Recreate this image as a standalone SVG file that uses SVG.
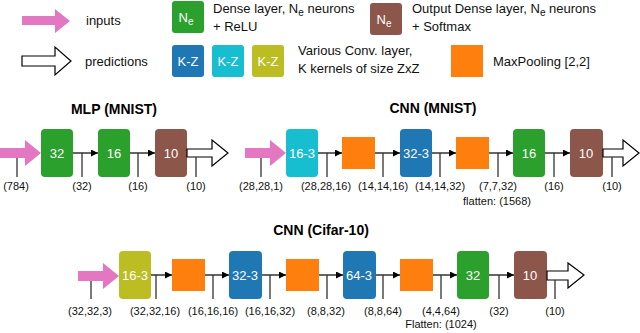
<svg xmlns="http://www.w3.org/2000/svg" width="640" height="333" viewBox="0 0 640 333">
<defs>
<style>
text{font-family:"Liberation Sans",Arial,sans-serif;}
.lg{font-size:13px;fill:#111;}
.lb{font-size:11px;fill:#111;text-anchor:middle;}
.tt{font-size:14px;font-weight:bold;fill:#000;text-anchor:middle;}
.bx{font-size:13px;fill:#fff;text-anchor:middle;}
.green{fill:#2ca02c;}
.brown{fill:#8c564b;}
.blue{fill:#1f77b4;}
.cyan{fill:#17becf;}
.olive{fill:#bcbd22;}
.orange{fill:#ff7f0e;}
.pink{fill:#e377c2;}
.outarr{fill:#fff;stroke:#000;stroke-width:1.2;}
.ln{stroke:#000;stroke-width:1.2;fill:none;}
.tk{stroke:#333;stroke-width:1.3;fill:none;}
</style>
<marker id="ah" viewBox="0 0 10 10" refX="10" refY="5" markerWidth="7" markerHeight="7" markerUnits="userSpaceOnUse" orient="auto">
<path d="M0,0 L10,5 L0,10 Z" fill="#000"/>
</marker>
</defs>

<!-- Legend -->
<g id="legend-inputs">
<path class="pink" d="M22,16 H55 V9 L70,21 L55,33 V25 H22 Z"/>
<text class="lg" x="86" y="25">inputs</text>
</g>
<g id="legend-predictions">
<path class="outarr" d="M22,56 H55 V47 L71,61 L55,75 V66 H22 Z"/>
<text class="lg" x="85" y="66">predictions</text>
</g>
<g id="legend-dense">
<rect class="green" x="172" y="1" width="32" height="32" rx="3"/>
<text class="bx" x="186" y="22">N<tspan font-size="10" dy="3">e</tspan></text>
<text class="lg" x="213" y="13">Dense layer, N<tspan font-size="10" dy="3">e</tspan><tspan dy="-3"> neurons</tspan></text>
<text class="lg" x="213" y="31">+ ReLU</text>
</g>
<g id="legend-output">
<rect class="brown" x="370" y="3" width="32" height="32" rx="3"/>
<text class="bx" x="384" y="24">N<tspan font-size="10" dy="3">e</tspan></text>
<text class="lg" x="412" y="13">Output Dense layer, N<tspan font-size="10" dy="3">e</tspan><tspan dy="-3"> neurons</tspan></text>
<text class="lg" x="412" y="31">+ Softmax</text>
</g>
<g id="legend-conv">
<rect class="blue" x="172" y="45" width="32" height="32" rx="3"/>
<text class="bx" x="188" y="66">K-Z</text>
<rect class="cyan" x="212" y="45" width="32" height="32" rx="3"/>
<text class="bx" x="228" y="66">K-Z</text>
<rect class="olive" x="252" y="45" width="32" height="32" rx="3"/>
<text class="bx" x="268" y="66">K-Z</text>
<text class="lg" x="298" y="55">Various Conv. layer,</text>
<text class="lg" x="298" y="73">K kernels of size ZxZ</text>
</g>
<g id="legend-pool">
<rect class="orange" x="451" y="45" width="32" height="32"/>
<text class="lg" x="493" y="66">MaxPooling [2,2]</text>
</g>

<!-- Titles -->
<text class="tt" x="114" y="114">MLP (MNIST)</text>
<text class="tt" x="433" y="113">CNN (MNIST)</text>
<text class="tt" x="321" y="235">CNN (Cifar-10)</text>

<!-- MLP nodes -->
<g id="mlp-in"><path class="pink" d="M0,148 H25 V140 L41,153 L25,166 V158 H0 Z"/></g>
<g id="mlp-d32"><rect class="green" x="41" y="129" width="32" height="48" rx="4"/><text class="bx" x="57" y="158">32</text></g>
<g id="mlp-d16"><rect class="green" x="98" y="129" width="32" height="48" rx="4"/><text class="bx" x="114" y="158">16</text></g>
<g id="mlp-out"><rect class="brown" x="155" y="129" width="32" height="48" rx="4"/><text class="bx" x="171" y="158">10</text></g>
<g id="mlp-pred"><path class="outarr" d="M187,149 H212 V140 L228,153 L212,166 V157 H187 Z"/></g>

<!-- CNN MNIST nodes -->
<g id="cm-in"><path class="pink" d="M245,148 H270 V140 L286,153 L270,166 V158 H245 Z"/></g>
<g id="cm-c1"><rect class="cyan" x="286" y="129" width="32" height="48" rx="4"/><text class="bx" x="302" y="158">16-3</text></g>
<g id="cm-p1"><rect class="orange" x="342" y="137" width="33" height="32"/></g>
<g id="cm-c2"><rect class="blue" x="400" y="129" width="32" height="48" rx="4"/><text class="bx" x="416" y="158">32-3</text></g>
<g id="cm-p2"><rect class="orange" x="456" y="137" width="33" height="32"/></g>
<g id="cm-d16"><rect class="green" x="513" y="129" width="32" height="48" rx="4"/><text class="bx" x="529" y="158">16</text></g>
<g id="cm-out"><rect class="brown" x="570" y="129" width="33" height="48" rx="4"/><text class="bx" x="586" y="158">10</text></g>
<g id="cm-pred"><path class="outarr" d="M603,149 H623 V140 L639,153 L623,166 V157 H603 Z"/></g>

<!-- CNN Cifar nodes -->
<g id="cc-in"><path class="pink" d="M78,271 H103 V263 L119,276 L103,289 V281 H78 Z"/></g>
<g id="cc-c1"><rect class="olive" x="119" y="251" width="32" height="48" rx="4"/><text class="bx" x="135" y="280">16-3</text></g>
<g id="cc-p1"><rect class="orange" x="172" y="259" width="33" height="32"/></g>
<g id="cc-c2"><rect class="blue" x="229" y="251" width="33" height="48" rx="4"/><text class="bx" x="245" y="280">32-3</text></g>
<g id="cc-p2"><rect class="orange" x="286" y="259" width="33" height="32"/></g>
<g id="cc-c3"><rect class="blue" x="343" y="251" width="33" height="48" rx="4"/><text class="bx" x="359" y="280">64-3</text></g>
<g id="cc-p3"><rect class="orange" x="400" y="259" width="33" height="32"/></g>
<g id="cc-d32"><rect class="green" x="457" y="251" width="32" height="48" rx="4"/><text class="bx" x="473" y="280">32</text></g>
<g id="cc-out"><rect class="brown" x="514" y="251" width="33" height="48" rx="4"/><text class="bx" x="530" y="280">10</text></g>
<g id="cc-pred"><path class="outarr" d="M547,271 H568 V263 L584,275 L568,288 V280 H547 Z"/></g>

<!-- Connectors -->
<g id="connectors">
<line class="ln" x1="73" y1="153" x2="98" y2="153" marker-end="url(#ah)"/>
<line class="ln" x1="130" y1="153" x2="155" y2="153" marker-end="url(#ah)"/>
<line class="ln" x1="318" y1="153" x2="342" y2="153" marker-end="url(#ah)"/>
<line class="ln" x1="375" y1="153" x2="400" y2="153" marker-end="url(#ah)"/>
<line class="ln" x1="432" y1="153" x2="456" y2="153" marker-end="url(#ah)"/>
<line class="ln" x1="489" y1="153" x2="513" y2="153" marker-end="url(#ah)"/>
<line class="ln" x1="545" y1="153" x2="570" y2="153" marker-end="url(#ah)"/>
<line class="ln" x1="151" y1="275" x2="172" y2="275" marker-end="url(#ah)"/>
<line class="ln" x1="205" y1="275" x2="229" y2="275" marker-end="url(#ah)"/>
<line class="ln" x1="262" y1="275" x2="286" y2="275" marker-end="url(#ah)"/>
<line class="ln" x1="319" y1="275" x2="343" y2="275" marker-end="url(#ah)"/>
<line class="ln" x1="376" y1="275" x2="400" y2="275" marker-end="url(#ah)"/>
<line class="ln" x1="433" y1="275" x2="457" y2="275" marker-end="url(#ah)"/>
<line class="ln" x1="489" y1="275" x2="514" y2="275" marker-end="url(#ah)"/>
<!-- ticks -->
<path class="tk" d="M17,158 V177 M82,153 V177 M138,153 V177 M196,157 V177"/>
<path class="tk" d="M261,158 V177 M327,153 V177 M383,153 V177 M440,153 V177 M498,153 V177 M554,153 V177 M612,157 V177"/>
<path class="tk" d="M91,281 V299 M156,275 V299 M213,275 V299 M270,275 V299 M327,275 V299 M383,275 V299 M441,275 V299 M499,275 V299 M555,280 V299"/>
</g>

<!-- Shape labels -->
<g id="labels">
<text class="lb" x="16" y="190">(784)</text>
<text class="lb" x="82" y="190">(32)</text>
<text class="lb" x="138" y="190">(16)</text>
<text class="lb" x="196" y="190">(10)</text>
<text class="lb" x="261" y="190">(28,28,1)</text>
<text class="lb" x="326" y="190">(28,28,16)</text>
<text class="lb" x="383" y="190">(14,14,16)</text>
<text class="lb" x="440" y="190">(14,14,32)</text>
<text class="lb" x="498" y="190">(7,7,32)</text>
<text class="lb" x="497" y="205">flatten: (1568)</text>
<text class="lb" x="554" y="190">(16)</text>
<text class="lb" x="612" y="190">(10)</text>
<text class="lb" x="90" y="315">(32,32,3)</text>
<text class="lb" x="155" y="315">(32,32,16)</text>
<text class="lb" x="213" y="315">(16,16,16)</text>
<text class="lb" x="270" y="315">(16,16,32)</text>
<text class="lb" x="326" y="315">(8,8,32)</text>
<text class="lb" x="383" y="315">(8,8,64)</text>
<text class="lb" x="441" y="315">(4,4,64)</text>
<text class="lb" x="441" y="328">Flatten: (1024)</text>
<text class="lb" x="499" y="315">(32)</text>
<text class="lb" x="555" y="315">(10)</text>
</g>
</svg>
